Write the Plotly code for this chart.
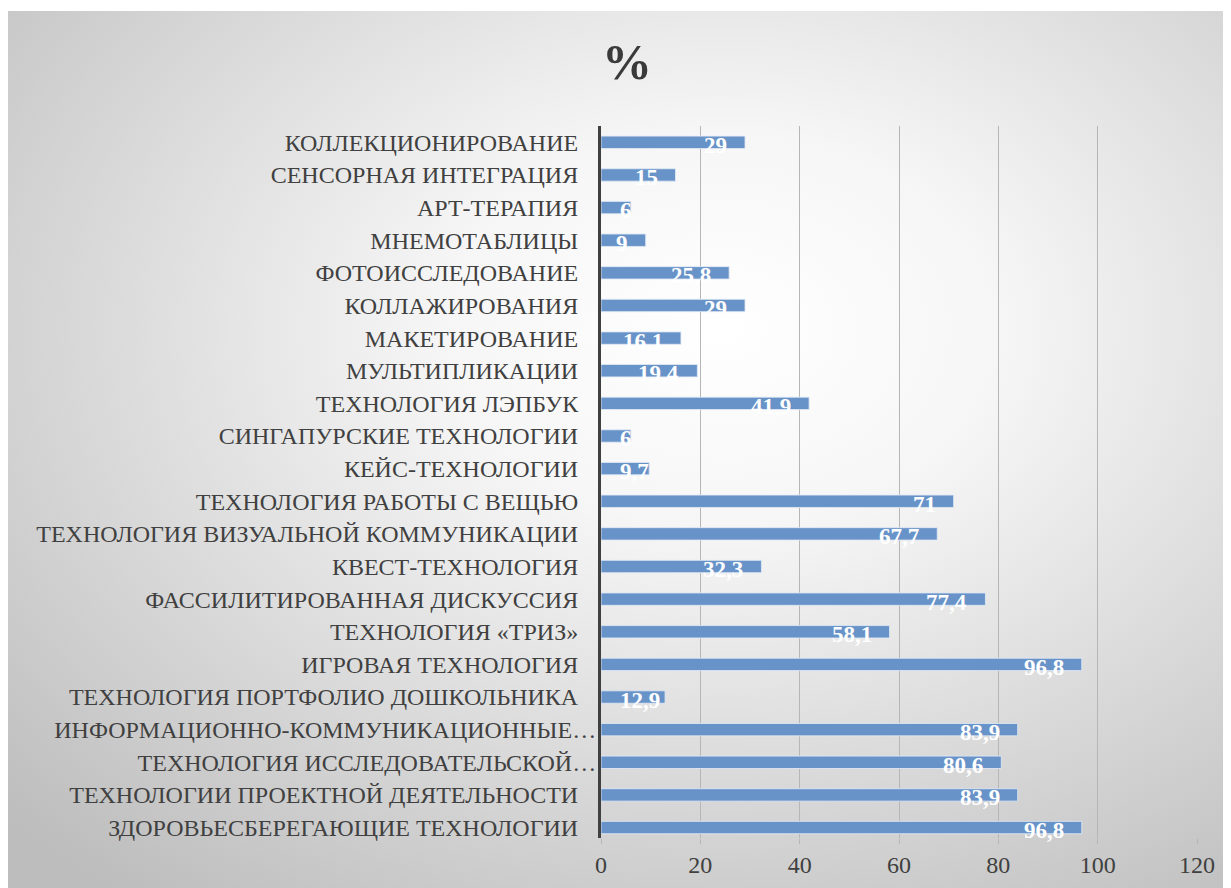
import base64
import plotly.graph_objects as go

# ---- data (top-to-bottom as shown) ----
categories = [
    "КОЛЛЕКЦИОНИРОВАНИЕ",
    "СЕНСОРНАЯ ИНТЕГРАЦИЯ",
    "АРТ-ТЕРАПИЯ",
    "МНЕМОТАБЛИЦЫ",
    "ФОТОИССЛЕДОВАНИЕ",
    "КОЛЛАЖИРОВАНИЯ",
    "МАКЕТИРОВАНИЕ",
    "МУЛЬТИПЛИКАЦИИ",
    "ТЕХНОЛОГИЯ ЛЭПБУК",
    "СИНГАПУРСКИЕ ТЕХНОЛОГИИ",
    "КЕЙС-ТЕХНОЛОГИИ",
    "ТЕХНОЛОГИЯ РАБОТЫ С ВЕЩЬЮ",
    "ТЕХНОЛОГИЯ ВИЗУАЛЬНОЙ КОММУНИКАЦИИ",
    "КВЕСТ-ТЕХНОЛОГИЯ",
    "ФАССИЛИТИРОВАННАЯ ДИСКУССИЯ",
    "ТЕХНОЛОГИЯ «ТРИЗ»",
    "ИГРОВАЯ ТЕХНОЛОГИЯ",
    "ТЕХНОЛОГИЯ ПОРТФОЛИО ДОШКОЛЬНИКА",
    "ИНФОРМАЦИОННО-КОММУНИКАЦИОННЫЕ…",
    "ТЕХНОЛОГИЯ ИССЛЕДОВАТЕЛЬСКОЙ…",
    "ТЕХНОЛОГИИ ПРОЕКТНОЙ ДЕЯТЕЛЬНОСТИ",
    "ЗДОРОВЬЕСБЕРЕГАЮЩИЕ ТЕХНОЛОГИИ",
]
values = [29, 15, 6, 9, 25.8, 29, 16.1, 19.4, 41.9, 6, 9.7, 71, 67.7, 32.3,
          77.4, 58.1, 96.8, 12.9, 83.9, 80.6, 83.9, 96.8]
x_ticks = [0, 20, 40, 60, 80, 100, 120]
title_text = "%"

# bottom-to-top order for the category axis
cats = categories[::-1]
vals = values[::-1]

FONT = "Liberation Serif"
TXT = "#404040"
LBL_SIZE = 23

ticktext = [c if c.endswith("…") else c + "\u00a0" * 3 for c in cats]

L, R, T, B = 593, 42, 118, 58
W, H = 1231, 888
pw, ph = W - L - R, H - T - B
XMAX = 120
px_per_unit = pw / XMAX

fig = go.Figure()
fig.add_trace(go.Bar(
    x=vals, y=cats, orientation="h",
    marker=dict(color="#6893C8", line=dict(color="rgba(225,233,245,0.85)", width=1)),
    hoverinfo="x+y",
))

# data labels: "inside end", but never closer than a minimum distance to the axis
END_PAD, MIN_LEFT = 16, 17
for c, v in zip(cats, vals):
    label = f"{v:g}".replace(".", ",")
    est_w = sum(LBL_SIZE * (0.25 if ch == "," else 0.5) for ch in label)
    right_px = v * px_per_unit - END_PAD
    if right_px - est_w < MIN_LEFT:
        ann = dict(x=0, xanchor="left", xshift=MIN_LEFT)
    else:
        ann = dict(x=v, xanchor="right", xshift=-END_PAD)
    fig.add_annotation(
        y=c, xref="x", yref="y", text=f"<b>{label}</b>",
        showarrow=False, yanchor="middle", yshift=-3,
        font=dict(family=FONT, size=LBL_SIZE, color="white"),
        **ann,
    )

# radial gradient background panel
svg = (
    "<svg xmlns='http://www.w3.org/2000/svg' width='1231' height='885' "
    "viewBox='0 0 1231 885' preserveAspectRatio='none'>"
    "<defs><radialGradient id='g' cx='0.58' cy='0.36' r='0.8'>"
    "<stop offset='0' stop-color='#ffffff'/>"
    "<stop offset='0.28' stop-color='#f6f6f6'/>"
    "<stop offset='0.68' stop-color='#d6d6d6'/>"
    "<stop offset='1' stop-color='#bdbdbd'/>"
    "</radialGradient></defs>"
    "<rect width='1231' height='885' fill='url(#g)'/></svg>"
)
src = "data:image/svg+xml;base64," + base64.b64encode(svg.encode()).decode()

fig.add_layout_image(
    source=src, xref="paper", yref="paper",
    x=(0 - L) / pw, y=(H - B - 3) / ph,
    sizex=W / pw, sizey=(H - 3) / ph,
    xanchor="left", yanchor="top", sizing="stretch", layer="below",
)

fig.update_layout(
    width=W, height=H,
    margin=dict(l=L, r=R, t=T, b=B),
    paper_bgcolor="white", plot_bgcolor="rgba(0,0,0,0)",
    separators=", ",
    bargap=0.62,
    showlegend=False,
    title=dict(text=f"<b>{title_text}</b>", x=619 / W, xref="container",
               y=1 - 53 / H, yref="container", xanchor="center", yanchor="middle",
               font=dict(family=FONT, size=50, color="#3a3a3a")),
    xaxis=dict(range=[0, XMAX], tickvals=x_ticks, showgrid=True, gridcolor="#b6b6b6",
               gridwidth=1, ticks="outside", ticklen=5, tickcolor="#b6b6b6",
               zeroline=False, showline=False, fixedrange=True,
               tickfont=dict(family=FONT, size=24, color=TXT)),
    yaxis=dict(type="category", categoryorder="array", categoryarray=cats,
               tickvals=cats, ticktext=ticktext, range=[-0.32, 21.5],
               showline=True, linecolor="#404040", linewidth=3, showgrid=False,
               ticks="", zeroline=False, fixedrange=True, ticklabelstandoff=-3,
               tickfont=dict(family=FONT, size=24, color=TXT)),
)

fig.write_html("out.html")
